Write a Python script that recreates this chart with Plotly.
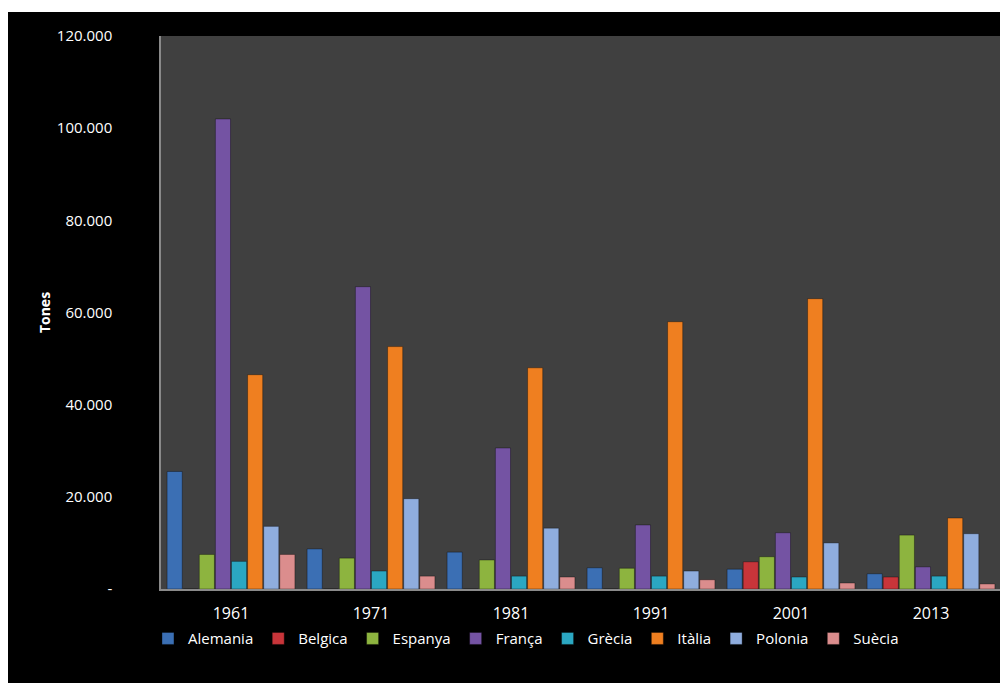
import plotly.graph_objects as go

years = ["1961", "1971", "1981", "1991", "2001", "2013"]
countries = ["Alemania", "Belgica", "Espanya", "França", "Grècia", "Itàlia", "Polonia", "Suècia"]

alemania = [25500, 8700, 8000, 4600, 4300, 3300]
belgica = [0, 0, 0, 0, 5900, 2600]
espanya = [7500, 6700, 6300, 4500, 7000, 11700]
franca = [102000, 65600, 30600, 13900, 12200, 4800]
grecia = [6000, 3900, 2800, 2800, 2600, 2800]
italia = [46500, 52600, 48000, 58000, 63000, 15400]
polonia = [13600, 19600, 13200, 3900, 10000, 12000]
suecia = [7500, 2800, 2600, 2000, 1300, 1100]

series = [alemania, belgica, espanya, franca, grecia, italia, polonia, suecia]
colors = ["#3b6fb4", "#c8353a", "#8db43f", "#7453a3", "#2ba7c2", "#ef7f20", "#8fadde", "#db8d8d"]

y_ticks = [0, 20000, 40000, 60000, 80000, 100000, 120000]
y_labels = ["-", "20.000", "40.000", "60.000", "80.000", "100.000", "120.000"]

fig = go.Figure()
for name, vals, col in zip(countries, series, colors):
    fig.add_trace(go.Bar(
        name=name, x=years, y=vals,
        marker=dict(color=col, line=dict(color="rgba(0,0,0,0.35)", width=1)),
    ))

font_family = "Open Sans, Lato, sans-serif"

fig.update_layout(
    width=1000, height=675,
    barmode="group", bargap=0.08, bargroupgap=0.06,
    paper_bgcolor="#000000", plot_bgcolor="#404040",
    margin=dict(l=153, r=7, t=28, b=94),
    font=dict(family=font_family, color="#ffffff", size=15),
    showlegend=True,
    legend=dict(orientation="h", x=0.4345, xanchor="center", y=-0.06, yanchor="top",
                font=dict(size=15, color="#ffffff"), itemwidth=30,
                bgcolor="rgba(0,0,0,0)", traceorder="normal"),
    xaxis=dict(showgrid=False, showline=True, linecolor="#8a8a8a", linewidth=1.5,
               ticks="", tickfont=dict(size=16, color="#ffffff"), ticklabelstandoff=9,
               zeroline=False),
    yaxis=dict(range=[0, 120000], tickvals=y_ticks, ticktext=y_labels,
               showgrid=False, showline=True, linecolor="#8a8a8a", linewidth=1.5,
               ticks="", tickfont=dict(size=15, color="#ffffff"), ticklabelstandoff=44,
               zeroline=False,
               title=dict(text="<b>Tones</b>", font=dict(size=14, color="#ffffff"), standoff=3)),
    shapes=[
        dict(type="rect", xref="paper", yref="paper", x0=-0.2, x1=1.1, y0=1.0434, y1=1.1,
             fillcolor="#ffffff", line=dict(width=0), layer="below"),
    ],
)

fig.write_html("out.html")
